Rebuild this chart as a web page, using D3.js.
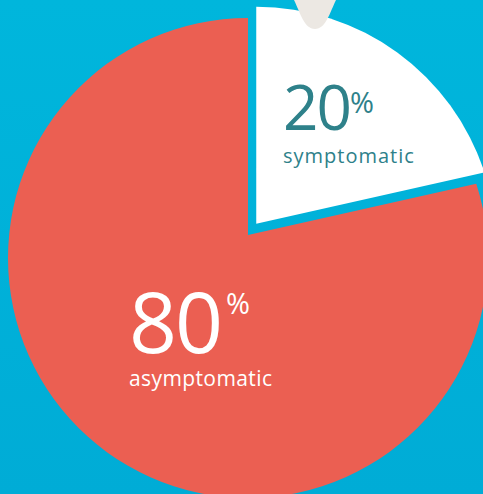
<!DOCTYPE html>
<html>
<head>
<meta charset="utf-8">
<script src="https://cdn.jsdelivr.net/npm/d3@7"></script>
<style>
  html, body { margin: 0; padding: 0; background: #00b4da; }
  svg { display: block; }
</style>
</head>
<body>
<div id="chart"></div>
<script>
// data
var categories = ["symptomatic", "asymptomatic"];
var values = [20, 80];
var sliceColors = ["#ffffff", "#eb5f52"];
var labelColors = ["#2e818a", "#ffffff"];

var width = 483, height = 494;
var cx = 248, cy = 258, radius = 240;
var tipLift = 23;     // wedge tip sits above the circle centre
var explode = 14;     // pull-out distance of the small slice

var svg = d3.select("#chart").append("svg")
    .attr("width", width)
    .attr("height", height);

var defs = svg.append("defs");
var grad = defs.append("linearGradient")
    .attr("id", "bg")
    .attr("x1", 0).attr("y1", 0).attr("x2", 0).attr("y2", 1);
grad.append("stop").attr("offset", "0%").attr("stop-color", "#00b6dc");
grad.append("stop").attr("offset", "100%").attr("stop-color", "#00acd6");

svg.append("rect")
    .attr("width", width)
    .attr("height", height)
    .attr("fill", "url(#bg)");

var pie = d3.pie().sort(null);
var arcs = pie(values);

function slicePath(d) {
    var p = d3.path();
    p.moveTo(0, -tipLift);
    p.lineTo(radius * Math.sin(d.startAngle), -radius * Math.cos(d.startAngle));
    p.arc(0, 0, radius, d.startAngle - Math.PI / 2, d.endAngle - Math.PI / 2);
    p.closePath();
    return p.toString();
}

var g = svg.append("g")
    .attr("transform", "translate(" + cx + "," + cy + ")");

g.selectAll("path.slice")
    .data(arcs)
    .enter().append("path")
    .attr("class", "slice")
    .attr("fill", function(d, i) { return sliceColors[i]; })
    .attr("transform", function(d, i) {
        if (i !== 0) return null;
        var mid = (d.startAngle + d.endAngle) / 2;
        return "translate(" + (explode * Math.sin(mid)) + "," + (-explode * Math.cos(mid)) + ")";
    })
    .attr("d", slicePath);

// decorative pin tip peeking in at the top
svg.append("path")
    .attr("d", "M294,0 C300,12 304,29 315,29 C326,29 330,12 336,0 Z")
    .attr("fill", "#ece8e3");

// labels
var labelPos = [
    { x: 283, y: 130, size: 62, pctX: 350, pctY: 113, pctSize: 29, sub: 163, subSize: 20, subSpace: 1 },
    { x: 129, y: 353, size: 84, pctX: 226, pctY: 314, pctSize: 29, sub: 386, subSize: 21, subSpace: 0.4 }
];

var labels = svg.selectAll("g.label")
    .data(arcs)
    .enter().append("g")
    .attr("class", "label")
    .style("font-family", "'Open Sans', 'Noto Sans', sans-serif")
    .attr("fill", function(d, i) { return labelColors[i]; });

labels.append("text")
    .attr("x", function(d, i) { return labelPos[i].x; })
    .attr("y", function(d, i) { return labelPos[i].y; })
    .style("font-size", function(d, i) { return labelPos[i].size + "px"; })
    .style("letter-spacing", "-2px")
    .text(function(d) { return d.data; });

labels.append("text")
    .attr("x", function(d, i) { return labelPos[i].pctX; })
    .attr("y", function(d, i) { return labelPos[i].pctY; })
    .style("font-size", function(d, i) { return labelPos[i].pctSize + "px"; })
    .text("%");

labels.append("text")
    .attr("x", function(d, i) { return labelPos[i].x; })
    .attr("y", function(d, i) { return labelPos[i].sub; })
    .style("font-size", function(d, i) { return labelPos[i].subSize + "px"; })
    .style("letter-spacing", function(d, i) { return labelPos[i].subSpace + "px"; })
    .text(function(d, i) { return categories[i]; });
</script>
</body>
</html>
